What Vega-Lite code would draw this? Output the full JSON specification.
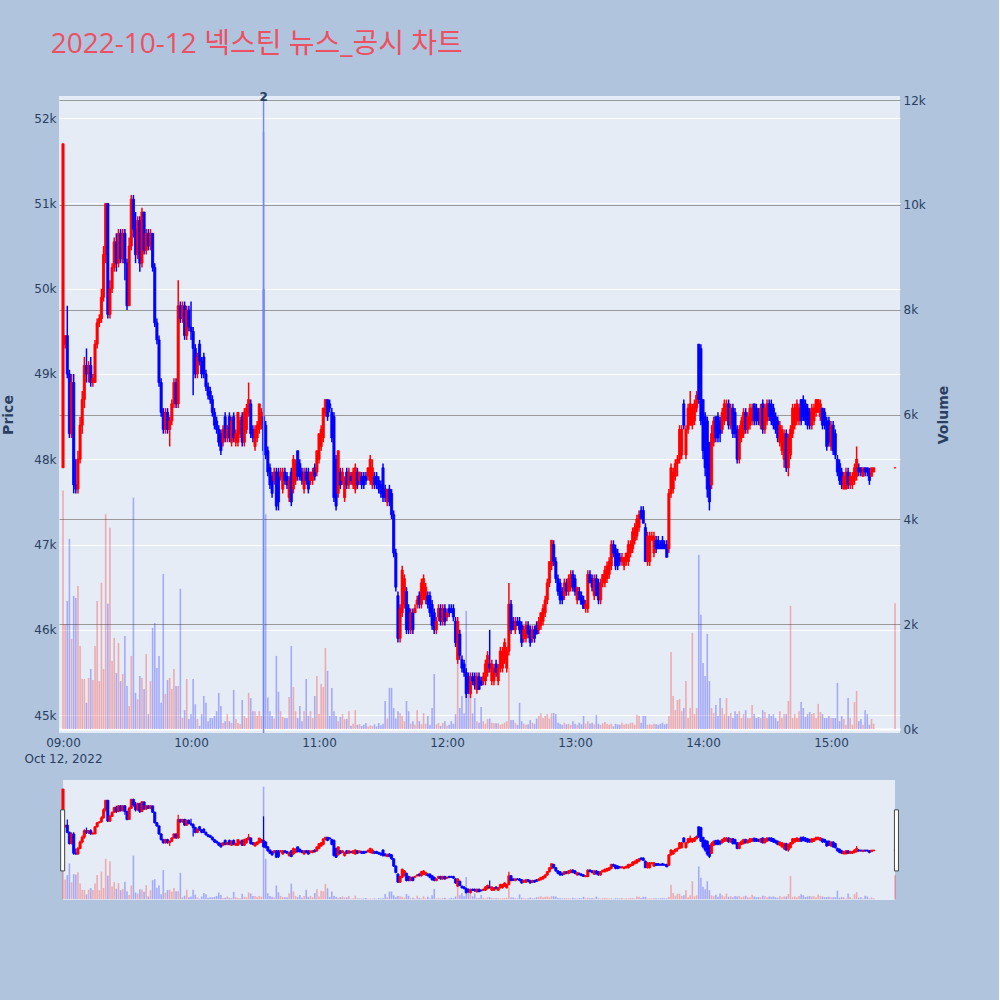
{
  "$schema": "https://vega.github.io/schema/vega-lite/v6.json",
  "background": "#B0C4DE",
  "padding": {"left": 1, "right": 48, "top": 30, "bottom": 100},
  "title": {
    "text": "2022-10-12 넥스틴 뉴스_공시 차트",
    "anchor": "start",
    "font": "Open Sans, Noto Sans CJK KR",
    "fontSize": 28,
    "fontWeight": "normal",
    "color": "#EC5062",
    "dx": 49,
    "offset": 32
  },
  "bounds": "flush",
  "spacing": 47,
  "data": {
    "format": {"parse": {"t": "date:'%H:%M'"}},
    "values": [
      {"t":"09:00","o":47900,"h":51700,"l":47900,"c":51700,"v":4550},
      {"t":"09:01","o":49350,"h":49450,"l":49300,"c":49450,"v":2000},
      {"t":"09:02","o":49450,"h":49800,"l":48950,"c":49000,"v":2445},
      {"t":"09:03","o":49000,"h":49050,"l":48250,"c":48300,"v":3630},
      {"t":"09:04","o":48300,"h":49000,"l":48250,"c":48900,"v":1720},
      {"t":"09:05","o":48900,"h":49000,"l":47600,"c":47700,"v":2540},
      {"t":"09:06","o":47700,"h":48000,"l":47600,"c":47650,"v":2500},
      {"t":"09:07","o":47650,"h":48100,"l":47600,"c":48000,"v":2730},
      {"t":"09:08","o":48000,"h":48500,"l":47950,"c":48400,"v":1585},
      {"t":"09:09","o":48400,"h":48800,"l":48300,"c":48700,"v":955},
      {"t":"09:10","o":48700,"h":49200,"l":48600,"c":49100,"v":955},
      {"t":"09:11","o":49100,"h":49300,"l":48900,"c":49000,"v":500},
      {"t":"09:12","o":49000,"h":49150,"l":48900,"c":49100,"v":975},
      {"t":"09:13","o":49100,"h":49200,"l":48850,"c":48900,"v":1145},
      {"t":"09:14","o":48900,"h":49000,"l":48850,"c":48950,"v":935},
      {"t":"09:15","o":48900,"h":49400,"l":48900,"c":49350,"v":1585},
      {"t":"09:16","o":49350,"h":49650,"l":49300,"c":49600,"v":2445},
      {"t":"09:17","o":49600,"h":49700,"l":49550,"c":49650,"v":915},
      {"t":"09:18","o":49650,"h":50000,"l":49600,"c":49900,"v":2790},
      {"t":"09:19","o":49900,"h":50500,"l":49850,"c":50400,"v":1145},
      {"t":"09:20","o":50400,"h":51000,"l":50300,"c":51000,"v":4100},
      {"t":"09:21","o":51000,"h":51000,"l":49650,"c":49700,"v":2390},
      {"t":"09:22","o":49700,"h":50100,"l":49650,"c":50000,"v":3840},
      {"t":"09:23","o":50000,"h":50300,"l":49950,"c":50250,"v":1300},
      {"t":"09:24","o":50250,"h":50600,"l":50200,"c":50550,"v":1740},
      {"t":"09:25","o":50550,"h":50650,"l":50200,"c":50300,"v":1070},
      {"t":"09:26","o":50300,"h":50700,"l":50250,"c":50650,"v":1640},
      {"t":"09:27","o":50650,"h":50700,"l":50300,"c":50350,"v":915},
      {"t":"09:28","o":50350,"h":50700,"l":50300,"c":50650,"v":1050},
      {"t":"09:29","o":50650,"h":50700,"l":50100,"c":50300,"v":1775},
      {"t":"09:30","o":50300,"h":50350,"l":49750,"c":49800,"v":820},
      {"t":"09:31","o":49800,"h":50600,"l":49800,"c":50500,"v":440},
      {"t":"09:32","o":50500,"h":51100,"l":50450,"c":51050,"v":1395},
      {"t":"09:33","o":51050,"h":51100,"l":50600,"c":50700,"v":4415},
      {"t":"09:34","o":50700,"h":50900,"l":50300,"c":50400,"v":690},
      {"t":"09:35","o":50400,"h":50850,"l":50350,"c":50800,"v":570},
      {"t":"09:36","o":50800,"h":50850,"l":50200,"c":50300,"v":1010},
      {"t":"09:37","o":50300,"h":50950,"l":50250,"c":50900,"v":975},
      {"t":"09:38","o":50900,"h":50900,"l":50400,"c":50450,"v":765},
      {"t":"09:39","o":50450,"h":50700,"l":50400,"c":50650,"v":1430},
      {"t":"09:40","o":50650,"h":50700,"l":50450,"c":50500,"v":285},
      {"t":"09:41","o":50500,"h":50700,"l":50450,"c":50650,"v":915},
      {"t":"09:42","o":50650,"h":50650,"l":50200,"c":50250,"v":1930},
      {"t":"09:43","o":50250,"h":50300,"l":49550,"c":49600,"v":2025},
      {"t":"09:44","o":49600,"h":49650,"l":49350,"c":49400,"v":1165},
      {"t":"09:45","o":49400,"h":49450,"l":48850,"c":48900,"v":1395},
      {"t":"09:46","o":48900,"h":48950,"l":48500,"c":48550,"v":500},
      {"t":"09:47","o":48550,"h":48600,"l":48300,"c":48350,"v":2960},
      {"t":"09:48","o":48350,"h":48600,"l":48300,"c":48550,"v":670},
      {"t":"09:49","o":48550,"h":48600,"l":48300,"c":48350,"v":935},
      {"t":"09:50","o":48350,"h":48500,"l":48150,"c":48450,"v":975},
      {"t":"09:51","o":48450,"h":48700,"l":48400,"c":48650,"v":765},
      {"t":"09:52","o":48650,"h":48950,"l":48600,"c":48900,"v":1145},
      {"t":"09:53","o":48900,"h":48950,"l":48600,"c":48650,"v":820},
      {"t":"09:54","o":48650,"h":50100,"l":48600,"c":49800,"v":820},
      {"t":"09:55","o":49800,"h":49850,"l":49600,"c":49650,"v":2675},
      {"t":"09:56","o":49650,"h":49850,"l":49600,"c":49800,"v":210},
      {"t":"09:57","o":49800,"h":49850,"l":49400,"c":49450,"v":360},
      {"t":"09:58","o":49450,"h":49800,"l":49400,"c":49750,"v":955},
      {"t":"09:59","o":49750,"h":49800,"l":49500,"c":49550,"v":190},
      {"t":"10:00","o":49550,"h":49850,"l":49400,"c":49500,"v":285},
      {"t":"10:01","o":49500,"h":49550,"l":48750,"c":49300,"v":955},
      {"t":"10:02","o":49300,"h":49350,"l":48950,"c":49000,"v":475},
      {"t":"10:03","o":49000,"h":49250,"l":48950,"c":49200,"v":190},
      {"t":"10:04","o":49350,"h":49400,"l":49100,"c":49150,"v":60},
      {"t":"10:05","o":49150,"h":49200,"l":48950,"c":49000,"v":285},
      {"t":"10:06","o":49200,"h":49250,"l":48950,"c":49000,"v":630},
      {"t":"10:07","o":49000,"h":49050,"l":48800,"c":48850,"v":500},
      {"t":"10:08","o":48850,"h":48900,"l":48700,"c":48750,"v":150},
      {"t":"10:09","o":48800,"h":48850,"l":48650,"c":48700,"v":210},
      {"t":"10:10","o":48700,"h":48750,"l":48500,"c":48550,"v":210},
      {"t":"10:11","o":48550,"h":48600,"l":48350,"c":48400,"v":250},
      {"t":"10:12","o":48450,"h":48500,"l":48300,"c":48350,"v":340},
      {"t":"10:13","o":48350,"h":48400,"l":48150,"c":48200,"v":690},
      {"t":"10:14","o":48300,"h":48350,"l":48050,"c":48100,"v":440},
      {"t":"10:15","o":48200,"h":48400,"l":48150,"c":48350,"v":115},
      {"t":"10:16","o":48500,"h":48550,"l":48200,"c":48250,"v":150},
      {"t":"10:17","o":48250,"h":48400,"l":48200,"c":48350,"v":285},
      {"t":"10:18","o":48500,"h":48550,"l":48200,"c":48250,"v":150},
      {"t":"10:19","o":48200,"h":48500,"l":48150,"c":48450,"v":115},
      {"t":"10:20","o":48500,"h":48550,"l":48200,"c":48250,"v":745},
      {"t":"10:21","o":48200,"h":48350,"l":48150,"c":48300,"v":190},
      {"t":"10:22","o":48200,"h":48550,"l":48150,"c":48550,"v":115},
      {"t":"10:23","o":48300,"h":48500,"l":48250,"c":48450,"v":95},
      {"t":"10:24","o":48500,"h":48550,"l":48150,"c":48200,"v":555},
      {"t":"10:25","o":48200,"h":48600,"l":48150,"c":48550,"v":250},
      {"t":"10:26","o":48350,"h":48650,"l":48300,"c":48600,"v":210},
      {"t":"10:27","o":48550,"h":48900,"l":48500,"c":48700,"v":690},
      {"t":"10:28","o":48650,"h":48700,"l":48250,"c":48300,"v":590},
      {"t":"10:29","o":48350,"h":48400,"l":48200,"c":48250,"v":340},
      {"t":"10:30","o":48150,"h":48400,"l":48100,"c":48350,"v":340},
      {"t":"10:31","o":48250,"h":48450,"l":48200,"c":48400,"v":250},
      {"t":"10:32","o":48350,"h":48650,"l":48300,"c":48650,"v":340},
      {"t":"10:33","o":48400,"h":48600,"l":48350,"c":48550,"v":250},
      {"t":"10:34","o":48500,"h":50000,"l":48050,"c":48100,"v":11400},
      {"t":"10:35","o":48400,"h":48450,"l":48000,"c":48050,"v":4100},
      {"t":"10:36","o":48100,"h":48150,"l":47800,"c":47850,"v":600},
      {"t":"10:37","o":47900,"h":47950,"l":47650,"c":47700,"v":340},
      {"t":"10:38","o":47800,"h":47850,"l":47550,"c":47600,"v":250},
      {"t":"10:39","o":47750,"h":47900,"l":47700,"c":47850,"v":200},
      {"t":"10:40","o":47850,"h":47900,"l":47400,"c":47450,"v":1395},
      {"t":"10:41","o":47850,"h":47900,"l":47400,"c":47500,"v":710},
      {"t":"10:42","o":47800,"h":47900,"l":47750,"c":47850,"v":340},
      {"t":"10:43","o":47650,"h":47900,"l":47600,"c":47850,"v":230},
      {"t":"10:44","o":47850,"h":47900,"l":47700,"c":47750,"v":210},
      {"t":"10:45","o":47800,"h":47850,"l":47650,"c":47700,"v":210},
      {"t":"10:46","o":47550,"h":47800,"l":47500,"c":47750,"v":610},
      {"t":"10:47","o":47850,"h":47900,"l":47450,"c":47500,"v":1585},
      {"t":"10:48","o":47650,"h":48050,"l":47600,"c":48000,"v":800},
      {"t":"10:49","o":47750,"h":48000,"l":47700,"c":47950,"v":340},
      {"t":"10:50","o":48100,"h":48100,"l":47750,"c":47800,"v":210},
      {"t":"10:51","o":47950,"h":48000,"l":47750,"c":47800,"v":440},
      {"t":"10:52","o":47850,"h":47900,"l":47700,"c":47750,"v":150},
      {"t":"10:53","o":47650,"h":47900,"l":47600,"c":47850,"v":340},
      {"t":"10:54","o":47850,"h":47900,"l":47700,"c":47750,"v":955},
      {"t":"10:55","o":47850,"h":47900,"l":47600,"c":47650,"v":250},
      {"t":"10:56","o":47750,"h":47850,"l":47700,"c":47850,"v":340},
      {"t":"10:57","o":47750,"h":47900,"l":47700,"c":47850,"v":210},
      {"t":"10:58","o":47900,"h":47950,"l":47750,"c":47800,"v":630},
      {"t":"10:59","o":47850,"h":48100,"l":47800,"c":48100,"v":1010},
      {"t":"11:00","o":48000,"h":48300,"l":47950,"c":48300,"v":285},
      {"t":"11:01","o":48150,"h":48400,"l":48100,"c":48350,"v":860},
      {"t":"11:02","o":48250,"h":48600,"l":48200,"c":48600,"v":800},
      {"t":"11:03","o":48550,"h":48700,"l":48500,"c":48700,"v":1545},
      {"t":"11:04","o":48700,"h":48700,"l":48450,"c":48500,"v":1110},
      {"t":"11:05","o":48650,"h":48700,"l":48550,"c":48600,"v":250},
      {"t":"11:06","o":48550,"h":48600,"l":48200,"c":48250,"v":785},
      {"t":"11:07","o":48500,"h":48550,"l":47500,"c":47550,"v":340},
      {"t":"11:08","o":48000,"h":48050,"l":47400,"c":47450,"v":250},
      {"t":"11:09","o":47600,"h":48100,"l":47550,"c":48100,"v":150},
      {"t":"11:10","o":47850,"h":47900,"l":47650,"c":47700,"v":230},
      {"t":"11:11","o":47750,"h":47900,"l":47700,"c":47850,"v":285},
      {"t":"11:12","o":47550,"h":47800,"l":47500,"c":47750,"v":190},
      {"t":"11:13","o":47850,"h":47900,"l":47650,"c":47700,"v":190},
      {"t":"11:14","o":47700,"h":47900,"l":47650,"c":47850,"v":340},
      {"t":"11:15","o":47800,"h":47850,"l":47700,"c":47750,"v":60},
      {"t":"11:16","o":47700,"h":47900,"l":47650,"c":47850,"v":100},
      {"t":"11:17","o":47650,"h":47950,"l":47600,"c":47900,"v":360},
      {"t":"11:18","o":47850,"h":47900,"l":47650,"c":47700,"v":80},
      {"t":"11:19","o":47750,"h":47850,"l":47700,"c":47850,"v":95},
      {"t":"11:20","o":47800,"h":47850,"l":47650,"c":47700,"v":60},
      {"t":"11:21","o":47800,"h":47850,"l":47650,"c":47700,"v":80},
      {"t":"11:22","o":47800,"h":47850,"l":47700,"c":47750,"v":115},
      {"t":"11:23","o":47800,"h":47900,"l":47750,"c":47900,"v":50},
      {"t":"11:24","o":47750,"h":48050,"l":47700,"c":48000,"v":70},
      {"t":"11:25","o":47700,"h":48000,"l":47650,"c":47900,"v":60},
      {"t":"11:26","o":47800,"h":47850,"l":47650,"c":47700,"v":90},
      {"t":"11:27","o":47800,"h":47850,"l":47650,"c":47700,"v":50},
      {"t":"11:28","o":47750,"h":47800,"l":47600,"c":47650,"v":115},
      {"t":"11:29","o":47700,"h":47750,"l":47550,"c":47600,"v":70},
      {"t":"11:30","o":47900,"h":47950,"l":47500,"c":47550,"v":100},
      {"t":"11:31","o":47650,"h":47700,"l":47500,"c":47550,"v":535},
      {"t":"11:32","o":47500,"h":47650,"l":47450,"c":47650,"v":200},
      {"t":"11:33","o":47650,"h":47700,"l":47450,"c":47500,"v":785},
      {"t":"11:34","o":47600,"h":47650,"l":47300,"c":47350,"v":785},
      {"t":"11:35","o":47350,"h":47400,"l":46850,"c":46900,"v":400},
      {"t":"11:36","o":46900,"h":46950,"l":46450,"c":46500,"v":200},
      {"t":"11:37","o":46400,"h":46450,"l":45850,"c":45900,"v":340},
      {"t":"11:38","o":45900,"h":46300,"l":45850,"c":46250,"v":305},
      {"t":"11:39","o":46200,"h":46750,"l":46150,"c":46700,"v":250},
      {"t":"11:40","o":46300,"h":46650,"l":46250,"c":46600,"v":150},
      {"t":"11:41","o":46450,"h":46500,"l":45950,"c":46000,"v":535},
      {"t":"11:42","o":46250,"h":46300,"l":45950,"c":46000,"v":340},
      {"t":"11:43","o":46000,"h":46250,"l":45950,"c":46200,"v":100},
      {"t":"11:44","o":46200,"h":46250,"l":45950,"c":46000,"v":150},
      {"t":"11:45","o":46200,"h":46300,"l":46200,"c":46250,"v":80},
      {"t":"11:46","o":46300,"h":46400,"l":46250,"c":46350,"v":360},
      {"t":"11:47","o":46400,"h":46450,"l":46250,"c":46300,"v":150},
      {"t":"11:48","o":46300,"h":46600,"l":46250,"c":46550,"v":90},
      {"t":"11:49","o":46400,"h":46650,"l":46350,"c":46600,"v":305},
      {"t":"11:50","o":46350,"h":46550,"l":46300,"c":46500,"v":100},
      {"t":"11:51","o":46400,"h":46450,"l":46250,"c":46300,"v":250},
      {"t":"11:52","o":46400,"h":46450,"l":46150,"c":46200,"v":80},
      {"t":"11:53","o":46300,"h":46350,"l":46000,"c":46050,"v":400},
      {"t":"11:54","o":46200,"h":46250,"l":45950,"c":46000,"v":1050},
      {"t":"11:55","o":46000,"h":46150,"l":45950,"c":46100,"v":90},
      {"t":"11:56","o":46150,"h":46300,"l":46100,"c":46250,"v":115},
      {"t":"11:57","o":46250,"h":46300,"l":46050,"c":46100,"v":60},
      {"t":"11:58","o":46100,"h":46300,"l":46050,"c":46250,"v":115},
      {"t":"11:59","o":46250,"h":46300,"l":46050,"c":46100,"v":150},
      {"t":"12:00","o":46150,"h":46250,"l":46100,"c":46200,"v":60},
      {"t":"12:01","o":46250,"h":46300,"l":46150,"c":46200,"v":80},
      {"t":"12:02","o":46250,"h":46300,"l":46200,"c":46200,"v":150},
      {"t":"12:03","o":46250,"h":46300,"l":46100,"c":46150,"v":100},
      {"t":"12:04","o":46100,"h":46150,"l":45800,"c":45850,"v":285},
      {"t":"12:05","o":45650,"h":46150,"l":45600,"c":46100,"v":1240},
      {"t":"12:06","o":45950,"h":46000,"l":45650,"c":45700,"v":400},
      {"t":"12:07","o":45650,"h":45700,"l":45500,"c":45550,"v":630},
      {"t":"12:08","o":45600,"h":45650,"l":45450,"c":45500,"v":300},
      {"t":"12:09","o":45500,"h":45550,"l":45200,"c":45250,"v":2255},
      {"t":"12:10","o":45450,"h":45500,"l":45250,"c":45300,"v":1050},
      {"t":"12:11","o":45250,"h":45500,"l":45200,"c":45450,"v":785},
      {"t":"12:12","o":45450,"h":45500,"l":45350,"c":45400,"v":300},
      {"t":"12:13","o":45450,"h":45500,"l":45300,"c":45350,"v":590},
      {"t":"12:14","o":45300,"h":45500,"l":45250,"c":45450,"v":150},
      {"t":"12:15","o":45450,"h":45500,"l":45300,"c":45300,"v":120},
      {"t":"12:16","o":45400,"h":45450,"l":45350,"c":45350,"v":420},
      {"t":"12:17","o":45400,"h":45500,"l":45350,"c":45450,"v":150},
      {"t":"12:18","o":45400,"h":45650,"l":45350,"c":45600,"v":100},
      {"t":"12:19","o":45500,"h":45750,"l":45450,"c":45700,"v":190},
      {"t":"12:20","o":45600,"h":46000,"l":45500,"c":45550,"v":200},
      {"t":"12:21","o":45400,"h":45650,"l":45350,"c":45600,"v":120},
      {"t":"12:22","o":45400,"h":45600,"l":45350,"c":45550,"v":110},
      {"t":"12:23","o":45600,"h":45650,"l":45450,"c":45500,"v":110},
      {"t":"12:24","o":45400,"h":45600,"l":45350,"c":45550,"v":110},
      {"t":"12:25","o":45550,"h":45800,"l":45500,"c":45750,"v":80},
      {"t":"12:26","o":45550,"h":45800,"l":45500,"c":45750,"v":100},
      {"t":"12:27","o":45650,"h":45900,"l":45600,"c":45850,"v":120},
      {"t":"12:28","o":45550,"h":45800,"l":45500,"c":45750,"v":150},
      {"t":"12:29","o":45750,"h":46550,"l":45700,"c":46300,"v":1165},
      {"t":"12:30","o":46300,"h":46350,"l":45950,"c":46000,"v":170},
      {"t":"12:31","o":46100,"h":46150,"l":46000,"c":46000,"v":170},
      {"t":"12:32","o":46000,"h":46150,"l":45950,"c":46100,"v":120},
      {"t":"12:33","o":46100,"h":46150,"l":46050,"c":46050,"v":80},
      {"t":"12:34","o":46100,"h":46150,"l":45950,"c":46000,"v":500},
      {"t":"12:35","o":46050,"h":46100,"l":45800,"c":45850,"v":150},
      {"t":"12:36","o":45900,"h":46050,"l":45850,"c":46000,"v":100},
      {"t":"12:37","o":45900,"h":46100,"l":45850,"c":46050,"v":80},
      {"t":"12:38","o":46050,"h":46100,"l":45900,"c":45950,"v":90},
      {"t":"12:39","o":46000,"h":46050,"l":45800,"c":45850,"v":170},
      {"t":"12:40","o":45900,"h":46050,"l":45850,"c":46000,"v":120},
      {"t":"12:41","o":46000,"h":46050,"l":45850,"c":45900,"v":100},
      {"t":"12:42","o":46050,"h":46100,"l":45950,"c":45950,"v":200},
      {"t":"12:43","o":46000,"h":46150,"l":45950,"c":46100,"v":250},
      {"t":"12:44","o":46050,"h":46200,"l":46000,"c":46200,"v":300},
      {"t":"12:45","o":46100,"h":46300,"l":46050,"c":46250,"v":210},
      {"t":"12:46","o":46200,"h":46400,"l":46150,"c":46350,"v":250},
      {"t":"12:47","o":46350,"h":46600,"l":46300,"c":46550,"v":285},
      {"t":"12:48","o":46550,"h":46800,"l":46500,"c":46800,"v":200},
      {"t":"12:49","o":46750,"h":47050,"l":46700,"c":47050,"v":300},
      {"t":"12:50","o":47000,"h":47050,"l":46750,"c":46800,"v":305},
      {"t":"12:51","o":46800,"h":46850,"l":46550,"c":46600,"v":285},
      {"t":"12:52","o":46600,"h":46650,"l":46400,"c":46450,"v":120},
      {"t":"12:53","o":46550,"h":46600,"l":46300,"c":46350,"v":100},
      {"t":"12:54","o":46450,"h":46500,"l":46300,"c":46350,"v":80},
      {"t":"12:55","o":46400,"h":46600,"l":46350,"c":46550,"v":120},
      {"t":"12:56","o":46550,"h":46600,"l":46400,"c":46450,"v":90},
      {"t":"12:57","o":46450,"h":46650,"l":46400,"c":46600,"v":100},
      {"t":"12:58","o":46500,"h":46700,"l":46450,"c":46650,"v":80},
      {"t":"12:59","o":46650,"h":46700,"l":46450,"c":46500,"v":150},
      {"t":"13:00","o":46600,"h":46650,"l":46400,"c":46450,"v":100},
      {"t":"13:01","o":46350,"h":46500,"l":46300,"c":46500,"v":80},
      {"t":"13:02","o":46450,"h":46500,"l":46350,"c":46350,"v":120},
      {"t":"13:03","o":46400,"h":46450,"l":46300,"c":46300,"v":90},
      {"t":"13:04","o":46350,"h":46400,"l":46250,"c":46250,"v":250},
      {"t":"13:05","o":46250,"h":46350,"l":46200,"c":46300,"v":100},
      {"t":"13:06","o":46250,"h":46700,"l":46200,"c":46650,"v":150},
      {"t":"13:07","o":46650,"h":46700,"l":46550,"c":46550,"v":100},
      {"t":"13:08","o":46600,"h":46650,"l":46450,"c":46500,"v":120},
      {"t":"13:09","o":46400,"h":46650,"l":46350,"c":46600,"v":90},
      {"t":"13:10","o":46600,"h":46650,"l":46400,"c":46400,"v":270},
      {"t":"13:11","o":46550,"h":46600,"l":46300,"c":46350,"v":100},
      {"t":"13:12","o":46350,"h":46600,"l":46300,"c":46550,"v":80},
      {"t":"13:13","o":46550,"h":46650,"l":46500,"c":46650,"v":110},
      {"t":"13:14","o":46550,"h":46750,"l":46500,"c":46700,"v":135},
      {"t":"13:15","o":46600,"h":46800,"l":46550,"c":46750,"v":100},
      {"t":"13:16","o":46650,"h":46850,"l":46600,"c":46800,"v":80},
      {"t":"13:17","o":46750,"h":47050,"l":46700,"c":47000,"v":100},
      {"t":"13:18","o":47000,"h":47050,"l":46850,"c":46900,"v":50},
      {"t":"13:19","o":46950,"h":47000,"l":46700,"c":46750,"v":100},
      {"t":"13:20","o":46900,"h":46950,"l":46700,"c":46750,"v":90},
      {"t":"13:21","o":46850,"h":46900,"l":46750,"c":46800,"v":80},
      {"t":"13:22","o":46800,"h":46900,"l":46750,"c":46850,"v":120},
      {"t":"13:23","o":46750,"h":46850,"l":46700,"c":46850,"v":80},
      {"t":"13:24","o":46800,"h":46900,"l":46750,"c":46900,"v":100},
      {"t":"13:25","o":46800,"h":47050,"l":46750,"c":47000,"v":90},
      {"t":"13:26","o":46900,"h":47050,"l":46850,"c":47000,"v":120},
      {"t":"13:27","o":46950,"h":47200,"l":46900,"c":47150,"v":120},
      {"t":"13:28","o":47050,"h":47250,"l":47000,"c":47200,"v":80},
      {"t":"13:29","o":47100,"h":47350,"l":47050,"c":47300,"v":270},
      {"t":"13:30","o":47200,"h":47400,"l":47150,"c":47350,"v":250},
      {"t":"13:31","o":47400,"h":47450,"l":47300,"c":47300,"v":120},
      {"t":"13:32","o":47400,"h":47450,"l":47250,"c":47250,"v":250},
      {"t":"13:33","o":47200,"h":47250,"l":46800,"c":46800,"v":250},
      {"t":"13:34","o":46800,"h":47150,"l":46750,"c":47100,"v":80},
      {"t":"13:35","o":46800,"h":47150,"l":46750,"c":47100,"v":90},
      {"t":"13:36","o":47050,"h":47150,"l":47050,"c":47100,"v":80},
      {"t":"13:37","o":46900,"h":47150,"l":46850,"c":47100,"v":100},
      {"t":"13:38","o":47050,"h":47100,"l":46900,"c":46950,"v":90},
      {"t":"13:39","o":47050,"h":47100,"l":46950,"c":46950,"v":80},
      {"t":"13:40","o":47000,"h":47050,"l":46950,"c":46950,"v":100},
      {"t":"13:41","o":47050,"h":47100,"l":46950,"c":46950,"v":120},
      {"t":"13:42","o":47000,"h":47050,"l":46950,"c":46950,"v":90},
      {"t":"13:43","o":47000,"h":47050,"l":46850,"c":46850,"v":100},
      {"t":"13:44","o":46950,"h":47650,"l":46900,"c":47600,"v":250},
      {"t":"13:45","o":47600,"h":47950,"l":47550,"c":47900,"v":1470},
      {"t":"13:46","o":47650,"h":47900,"l":47600,"c":47850,"v":630},
      {"t":"13:47","o":47800,"h":48000,"l":47750,"c":47950,"v":360},
      {"t":"13:48","o":47950,"h":48050,"l":47800,"c":48000,"v":555},
      {"t":"13:49","o":48000,"h":48400,"l":47950,"c":48350,"v":570},
      {"t":"13:50","o":48050,"h":48400,"l":48000,"c":48350,"v":340},
      {"t":"13:51","o":48650,"h":48700,"l":48350,"c":48400,"v":400},
      {"t":"13:52","o":48050,"h":48400,"l":48000,"c":48350,"v":915},
      {"t":"13:53","o":48350,"h":48650,"l":48300,"c":48600,"v":210},
      {"t":"13:54","o":48400,"h":48800,"l":48400,"c":48650,"v":400},
      {"t":"13:55","o":48400,"h":48650,"l":48350,"c":48600,"v":1835},
      {"t":"13:56","o":48450,"h":48700,"l":48400,"c":48650,"v":285},
      {"t":"13:57","o":48600,"h":48800,"l":48550,"c":48750,"v":400},
      {"t":"13:58","o":49350,"h":49350,"l":48650,"c":48700,"v":3325},
      {"t":"13:59","o":49300,"h":49350,"l":48400,"c":48450,"v":2180},
      {"t":"14:00","o":48700,"h":48700,"l":48000,"c":48100,"v":1260},
      {"t":"14:01","o":48500,"h":48550,"l":47800,"c":47900,"v":1010},
      {"t":"14:02","o":48450,"h":48500,"l":47550,"c":47650,"v":1815},
      {"t":"14:03","o":48200,"h":48200,"l":47400,"c":47500,"v":915},
      {"t":"14:04","o":47700,"h":48400,"l":47650,"c":48300,"v":400},
      {"t":"14:05","o":48200,"h":48500,"l":48150,"c":48450,"v":305},
      {"t":"14:06","o":48500,"h":48500,"l":48200,"c":48250,"v":460},
      {"t":"14:07","o":48500,"h":48550,"l":48200,"c":48250,"v":250},
      {"t":"14:08","o":48450,"h":48500,"l":48200,"c":48300,"v":590},
      {"t":"14:09","o":48350,"h":48600,"l":48300,"c":48550,"v":400},
      {"t":"14:10","o":48450,"h":48700,"l":48400,"c":48650,"v":285},
      {"t":"14:11","o":48450,"h":48700,"l":48450,"c":48650,"v":590},
      {"t":"14:12","o":48650,"h":48700,"l":48350,"c":48400,"v":250},
      {"t":"14:13","o":48400,"h":48650,"l":48350,"c":48600,"v":305},
      {"t":"14:14","o":48600,"h":48650,"l":48250,"c":48300,"v":210},
      {"t":"14:15","o":48550,"h":48600,"l":48250,"c":48300,"v":340},
      {"t":"14:16","o":48350,"h":48400,"l":47950,"c":48000,"v":285},
      {"t":"14:17","o":48000,"h":48400,"l":47950,"c":48350,"v":340},
      {"t":"14:18","o":48250,"h":48500,"l":48200,"c":48450,"v":210},
      {"t":"14:19","o":48300,"h":48600,"l":48250,"c":48550,"v":285},
      {"t":"14:20","o":48550,"h":48600,"l":48300,"c":48350,"v":360},
      {"t":"14:21","o":48350,"h":48550,"l":48300,"c":48500,"v":210},
      {"t":"14:22","o":48400,"h":48650,"l":48350,"c":48600,"v":210},
      {"t":"14:23","o":48450,"h":48650,"l":48400,"c":48600,"v":460},
      {"t":"14:24","o":48650,"h":48650,"l":48400,"c":48450,"v":285},
      {"t":"14:25","o":48600,"h":48650,"l":48400,"c":48450,"v":210},
      {"t":"14:26","o":48550,"h":48600,"l":48400,"c":48450,"v":230},
      {"t":"14:27","o":48400,"h":48650,"l":48350,"c":48600,"v":210},
      {"t":"14:28","o":48650,"h":48700,"l":48300,"c":48350,"v":360},
      {"t":"14:29","o":48350,"h":48650,"l":48300,"c":48600,"v":325},
      {"t":"14:30","o":48450,"h":48700,"l":48400,"c":48650,"v":210},
      {"t":"14:31","o":48650,"h":48700,"l":48450,"c":48500,"v":285},
      {"t":"14:32","o":48650,"h":48700,"l":48400,"c":48450,"v":250},
      {"t":"14:33","o":48600,"h":48650,"l":48350,"c":48400,"v":285},
      {"t":"14:34","o":48500,"h":48550,"l":48300,"c":48350,"v":210},
      {"t":"14:35","o":48450,"h":48500,"l":48200,"c":48250,"v":150},
      {"t":"14:36","o":48200,"h":48450,"l":48150,"c":48400,"v":340},
      {"t":"14:37","o":48100,"h":48400,"l":48050,"c":48350,"v":210},
      {"t":"14:38","o":48000,"h":48350,"l":47900,"c":48300,"v":285},
      {"t":"14:39","o":48300,"h":48350,"l":47850,"c":47900,"v":285},
      {"t":"14:40","o":47900,"h":48300,"l":47800,"c":48250,"v":535},
      {"t":"14:41","o":48050,"h":48400,"l":48000,"c":48350,"v":2350},
      {"t":"14:42","o":48300,"h":48650,"l":48250,"c":48600,"v":210},
      {"t":"14:43","o":48400,"h":48650,"l":48350,"c":48600,"v":285},
      {"t":"14:44","o":48450,"h":48700,"l":48400,"c":48650,"v":210},
      {"t":"14:45","o":48450,"h":48650,"l":48400,"c":48600,"v":340},
      {"t":"14:46","o":48700,"h":48700,"l":48400,"c":48450,"v":515},
      {"t":"14:47","o":48700,"h":48750,"l":48450,"c":48500,"v":400},
      {"t":"14:48","o":48650,"h":48700,"l":48400,"c":48450,"v":230},
      {"t":"14:49","o":48600,"h":48650,"l":48350,"c":48400,"v":285},
      {"t":"14:50","o":48550,"h":48600,"l":48350,"c":48400,"v":325},
      {"t":"14:51","o":48400,"h":48650,"l":48350,"c":48600,"v":285},
      {"t":"14:52","o":48450,"h":48650,"l":48400,"c":48600,"v":305},
      {"t":"14:53","o":48550,"h":48700,"l":48500,"c":48700,"v":210},
      {"t":"14:54","o":48550,"h":48700,"l":48550,"c":48700,"v":480},
      {"t":"14:55","o":48500,"h":48700,"l":48450,"c":48650,"v":325},
      {"t":"14:56","o":48600,"h":48600,"l":48350,"c":48400,"v":285},
      {"t":"14:57","o":48550,"h":48600,"l":48350,"c":48400,"v":210},
      {"t":"14:58","o":48450,"h":48500,"l":48100,"c":48150,"v":210},
      {"t":"14:59","o":48450,"h":48500,"l":48150,"c":48200,"v":250},
      {"t":"15:00","o":48150,"h":48450,"l":48100,"c":48400,"v":210},
      {"t":"15:01","o":48400,"h":48450,"l":48050,"c":48100,"v":210},
      {"t":"15:02","o":48300,"h":48350,"l":48000,"c":48050,"v":210},
      {"t":"15:03","o":48000,"h":48050,"l":47800,"c":47850,"v":880},
      {"t":"15:04","o":47950,"h":48000,"l":47700,"c":47750,"v":150},
      {"t":"15:05","o":47850,"h":47900,"l":47650,"c":47700,"v":250},
      {"t":"15:06","o":47650,"h":47850,"l":47650,"c":47800,"v":190},
      {"t":"15:07","o":47650,"h":47900,"l":47650,"c":47850,"v":80},
      {"t":"15:08","o":47850,"h":47900,"l":47650,"c":47700,"v":590},
      {"t":"15:09","o":47700,"h":47850,"l":47650,"c":47800,"v":210},
      {"t":"15:10","o":47700,"h":47850,"l":47650,"c":47800,"v":80},
      {"t":"15:11","o":47750,"h":47950,"l":47700,"c":47900,"v":515},
      {"t":"15:12","o":47800,"h":48150,"l":47750,"c":48000,"v":725},
      {"t":"15:13","o":47900,"h":47950,"l":47800,"c":47850,"v":150},
      {"t":"15:14","o":47900,"h":47900,"l":47800,"c":47850,"v":190},
      {"t":"15:15","o":47800,"h":47900,"l":47800,"c":47900,"v":80},
      {"t":"15:16","o":47900,"h":47900,"l":47800,"c":47850,"v":360},
      {"t":"15:17","o":47900,"h":47900,"l":47800,"c":47850,"v":285},
      {"t":"15:18","o":47850,"h":47900,"l":47700,"c":47750,"v":80},
      {"t":"15:19","o":47800,"h":47900,"l":47800,"c":47900,"v":190},
      {"t":"15:20","o":47850,"h":47900,"l":47850,"c":47900,"v":100},
      {"t":"15:30","o":47900,"h":47900,"l":47900,"c":47900,"v":2400}
    ]
  },
  "transform": [{"calculate": "datum.c >= datum.o ? 'up' : 'down'", "as": "dir"}],
  "vconcat": [
    {
      "width": 841,
      "height": 637,
      "layer": [
        {
          "mark": {"type": "bar", "size": 1.6, "opacity": 0.28},
          "encoding": {
            "x": {
              "field": "t", "type": "temporal",
              "scale": {"nice": false, "padding": 0, "domain": [
                {"year": 1900, "month": 1, "date": 1, "hours": 8, "minutes": 58, "seconds": 7},
                {"year": 1900, "month": 1, "date": 1, "hours": 15, "minutes": 32, "seconds": 20}
              ]},
              "axis": {
                "title": null,
                "grid": false,
                "values": [
                  {"year": 1900, "month": 1, "date": 1, "hours": 9},
                  {"year": 1900, "month": 1, "date": 1, "hours": 10},
                  {"year": 1900, "month": 1, "date": 1, "hours": 11},
                  {"year": 1900, "month": 1, "date": 1, "hours": 12},
                  {"year": 1900, "month": 1, "date": 1, "hours": 13},
                  {"year": 1900, "month": 1, "date": 1, "hours": 14},
                  {"year": 1900, "month": 1, "date": 1, "hours": 15}
                ],
                "labelExpr": "timeFormat(datum.value, '%H:%M') === '09:00' ? ['09:00', 'Oct 12, 2022'] : timeFormat(datum.value, '%H:%M')",
                "labelPadding": 4,
                "labelLineHeight": 16,
                "labelFlush": false,
                "labelOverlap": false
              }
            },
            "y": {
              "field": "v", "type": "quantitative",
              "scale": {"domain": [-76, 12080], "nice": false},
              "axis": {
                "orient": "right",
                "title": "Volume",
                "titleAngle": 270,
                "titlePadding": 25,
                "labelPadding": 3,
                "values": [0, 2000, 4000, 6000, 8000, 10000, 12000],
                "format": "~s",
                "grid": true,
                "gridColor": {"condition": {"test": "datum.value === 0", "value": "#ffffff"}, "value": "#999999"},
                "gridWidth": {"condition": {"test": "datum.value === 0", "value": 2}, "value": 1}
              }
            },
            "color": {
              "field": "dir", "type": "nominal",
              "scale": {"domain": ["up", "down"], "range": ["#ff0000", "#0000ff"]},
              "legend": null
            }
          }
        },
        {
          "encoding": {
            "x": {
              "field": "t", "type": "temporal",
              "scale": {"nice": false, "padding": 0, "domain": [
                {"year": 1900, "month": 1, "date": 1, "hours": 8, "minutes": 58, "seconds": 7},
                {"year": 1900, "month": 1, "date": 1, "hours": 15, "minutes": 32, "seconds": 20}
              ]}
            },
            "color": {"field": "dir", "type": "nominal", "scale": {"domain": ["up", "down"], "range": ["#ff0000", "#0000ff"]}, "legend": null}
          },
          "layer": [
            {
              "mark": {"type": "rule", "strokeWidth": 1.5},
              "encoding": {
                "y": {
                  "field": "l", "type": "quantitative",
                  "scale": {"domain": [44790, 52260], "nice": false, "zero": false},
                  "axis": {
                    "orient": "left",
                    "title": "Price",
                    "titlePadding": 18,
                    "labelPadding": 3,
                    "values": [45000, 46000, 47000, 48000, 49000, 50000, 51000, 52000],
                    "format": "~s",
                    "grid": true,
                    "gridColor": "#ffffff"
                  }
                },
                "y2": {"field": "h"}
              }
            },
            {
              "mark": {"type": "bar", "size": 2.2, "strokeWidth": 0.8},
              "encoding": {
                "y": {"field": "o", "type": "quantitative", "scale": {"domain": [44790, 52260], "nice": false, "zero": false}},
                "y2": {"field": "c"},
                "stroke": {"field": "dir", "type": "nominal", "scale": {"domain": ["up", "down"], "range": ["#ff0000", "#0000ff"]}, "legend": null}
              }
            }
          ]
        },
        {
          "data": {"values": [{}]},
          "mark": {"type": "rule", "color": "#6f8cf2", "strokeWidth": 1.5},
          "encoding": {
            "x": {
              "datum": {"year": 1900, "month": 1, "date": 1, "hours": 10, "minutes": 34},
              "type": "temporal",
              "scale": {"nice": false, "padding": 0, "domain": [
                {"year": 1900, "month": 1, "date": 1, "hours": 8, "minutes": 58, "seconds": 7},
                {"year": 1900, "month": 1, "date": 1, "hours": 15, "minutes": 32, "seconds": 20}
              ]}
            }
          }
        },
        {
          "data": {"values": [{}]},
          "mark": {"type": "text", "font": "DejaVu Sans", "fontSize": 12, "fontWeight": "bold", "color": "#2a3f5f", "baseline": "middle"},
          "encoding": {
            "x": {
              "datum": {"year": 1900, "month": 1, "date": 1, "hours": 10, "minutes": 34},
              "type": "temporal",
              "scale": {"nice": false, "padding": 0, "domain": [
                {"year": 1900, "month": 1, "date": 1, "hours": 8, "minutes": 58, "seconds": 7},
                {"year": 1900, "month": 1, "date": 1, "hours": 15, "minutes": 32, "seconds": 20}
              ]}
            },
            "y": {"datum": 52250, "type": "quantitative", "scale": {"domain": [44790, 52260], "nice": false, "zero": false}, "axis": null},
            "text": {"value": "2"}
          }
        }
      ],
      "resolve": {"scale": {"y": "independent"}, "axis": {"y": "independent"}}
    },
    {
      "width": 841,
      "height": 120,
      "view": {"fill": "transparent", "stroke": null},
      "layer": [
        {
          "data": {"values": [{}]},
          "mark": {"type": "rect", "color": "#E5ECF6"},
          "encoding": {
            "x": {
              "datum": {"year": 1900, "month": 1, "date": 1, "hours": 9, "minutes": 0},
              "type": "temporal",
              "scale": {"nice": false, "padding": 0, "domain": [
                {"year": 1900, "month": 1, "date": 1, "hours": 8, "minutes": 58, "seconds": 7},
                {"year": 1900, "month": 1, "date": 1, "hours": 15, "minutes": 32, "seconds": 20}
              ]},
              "axis": null
            },
            "x2": {"datum": {"year": 1900, "month": 1, "date": 1, "hours": 15, "minutes": 30}}
          }
        },
        {
          "mark": {"type": "bar", "size": 1.6, "opacity": 0.28},
          "encoding": {
            "x": {
              "field": "t", "type": "temporal", "axis": null,
              "scale": {"nice": false, "padding": 0, "domain": [
                {"year": 1900, "month": 1, "date": 1, "hours": 8, "minutes": 58, "seconds": 7},
                {"year": 1900, "month": 1, "date": 1, "hours": 15, "minutes": 32, "seconds": 20}
              ]}
            },
            "y": {"field": "v", "type": "quantitative", "scale": {"domain": [-76, 12080], "nice": false}, "axis": null},
            "color": {"field": "dir", "type": "nominal", "scale": {"domain": ["up", "down"], "range": ["#ff0000", "#0000ff"]}, "legend": null}
          }
        },
        {
          "encoding": {
            "x": {
              "field": "t", "type": "temporal", "axis": null,
              "scale": {"nice": false, "padding": 0, "domain": [
                {"year": 1900, "month": 1, "date": 1, "hours": 8, "minutes": 58, "seconds": 7},
                {"year": 1900, "month": 1, "date": 1, "hours": 15, "minutes": 32, "seconds": 20}
              ]}
            },
            "color": {"field": "dir", "type": "nominal", "scale": {"domain": ["up", "down"], "range": ["#ff0000", "#0000ff"]}, "legend": null}
          },
          "layer": [
            {
              "mark": {"type": "rule", "strokeWidth": 1.2},
              "encoding": {
                "y": {"field": "l", "type": "quantitative", "scale": {"domain": [44790, 52260], "nice": false, "zero": false}, "axis": null},
                "y2": {"field": "h"}
              }
            },
            {
              "mark": {"type": "bar", "size": 2.2, "strokeWidth": 0.8},
              "encoding": {
                "y": {"field": "o", "type": "quantitative", "scale": {"domain": [44790, 52260], "nice": false, "zero": false}, "axis": null},
                "y2": {"field": "c"},
                "stroke": {"field": "dir", "type": "nominal", "scale": {"domain": ["up", "down"], "range": ["#ff0000", "#0000ff"]}, "legend": null}
              }
            }
          ]
        },
        {
          "data": {"values": [{}]},
          "mark": {"type": "bar", "size": 4, "fill": "#ffffff", "stroke": "#444444", "strokeWidth": 1},
          "encoding": {
            "x": {"datum": {"year": 1900, "month": 1, "date": 1, "hours": 8, "minutes": 59, "seconds": 50}, "type": "temporal"},
            "y": {"datum": 50400, "type": "quantitative", "scale": {"domain": [44790, 52260], "nice": false, "zero": false}, "axis": null},
            "y2": {"datum": 46600}
          }
        },
        {
          "data": {"values": [{}]},
          "mark": {"type": "bar", "size": 4, "fill": "#ffffff", "stroke": "#444444", "strokeWidth": 1},
          "encoding": {
            "x": {"datum": {"year": 1900, "month": 1, "date": 1, "hours": 15, "minutes": 30, "seconds": 40}, "type": "temporal"},
            "y": {"datum": 50400, "type": "quantitative", "scale": {"domain": [44790, 52260], "nice": false, "zero": false}, "axis": null},
            "y2": {"datum": 46600}
          }
        }
      ],
      "resolve": {"scale": {"y": "independent"}, "axis": {"y": "independent"}}
    }
  ],
  "config": {
    "font": "DejaVu Sans",
    "view": {"fill": "#E5ECF6", "stroke": null},
    "scale": {"continuousPadding": 0},
    "axis": {
      "labelColor": "#2a3f5f",
      "labelFontSize": 12,
      "labelFont": "DejaVu Sans",
      "titleColor": "#2a3f5f",
      "titleFont": "DejaVu Sans",
      "titleFontSize": 14,
      "titleFontWeight": "bold",
      "domain": false,
      "ticks": false
    }
  }
}
